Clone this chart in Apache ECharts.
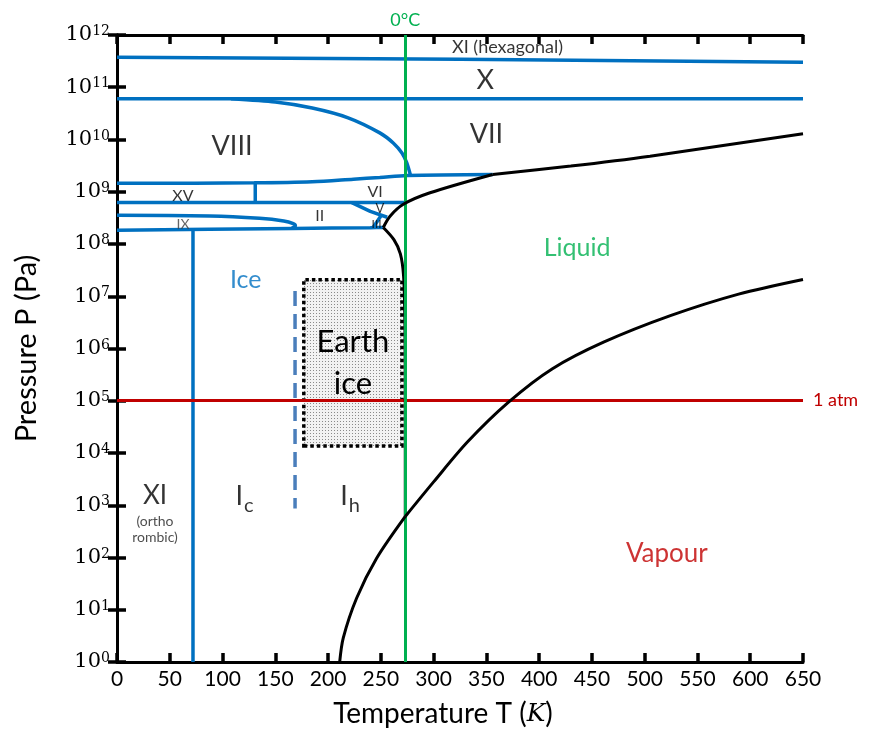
<!DOCTYPE html>
<html>
<head>
<meta charset="utf-8">
<script src="https://cdn.jsdelivr.net/npm/echarts@6/dist/echarts.min.js"></script>
<style>
  html, body { margin: 0; padding: 0; background: #fff; }
  #chart { width: 873px; height: 733px; }
</style>
</head>
<body>
<div id="chart"></div>
<script>
// ---- Axis ranges and ticks ----
const tempMin = 0, tempMax = 650, tempStep = 50;
const pressMin = 1, pressMax = 1e12;

// ---- Reference lines ----
const freezingPointK = 273.15;
const oneAtmPa = 101325;

// ---- Phase boundaries: [temperature K, pressure Pa] ----
const xiHexXBoundary  = [[0, 3.75e11], [325, 3.45e11], [650, 3.0e11]];
const xViiBoundary    = [[0, 6.0e10], [650, 6.0e10]];
const viiiViiBoundary = [[108, 6.0e10], [150, 5.2e10], [185, 4.0e10], [219, 2.6e10], [249, 1.34e10],
                         [262, 8.5e9], [270, 5.5e9], [274.5, 3.6e9], [278, 2.1e9]];
const upperIceBoundary = [[0, 1.45e9], [130, 1.48e9], [185, 1.55e9], [224, 1.74e9], [249, 1.88e9],
                          [275, 2.05e9], [356, 2.14e9]];
const xvLowerBoundary = [[0, 6.2e8], [272, 6.2e8]];
const xvViBoundary    = [[131, 1.48e9], [131, 6.2e8]];
const ixUpperBoundary = [[0, 3.55e8], [88, 3.44e8], [135, 3.1e8], [158, 2.75e8], [167, 2.45e8],
                         [169, 2.24e8], [165.5, 2.0e8]];
const ihUpperBoundary = [[0, 1.83e8], [167, 1.98e8], [240, 2.05e8], [252.3, 2.07e8]];
const xiIhBoundary    = [[72, 1.9e8], [72, 1]];
const iiVBoundary     = [[222.5, 6.2e8], [240, 4.2e8], [256, 3.25e8]];
const iiIiiBoundary   = [[242.5, 2.05e8], [250.5, 3.55e8]];
const cubicHexBoundary = [[168.7, 1.26e7], [168.7, 870]];

// ---- Liquid / vapour boundaries ----
const viiMelting  = [[356, 2.14e9], [430, 3.1e9], [505, 4.8e9], [650, 1.29e10]];
const highMelting = [[252.3, 2.07e8], [258.7, 3.4e8], [271.3, 5.75e8], [296.6, 9.55e8], [356, 2.14e9]];
const ihMelting   = [[252.3, 2.07e8], [262.5, 1.2e8], [268.5, 6.5e7], [271.5, 2.5e7], [272.8, 3e6],
                     [273.1, 1e5], [273.16, 611]];
const sublimation = [[273.16, 611], [246, 96.6], [227, 16.6], [214.4, 2.9], [211, 1]];
const vaporization = [[273.16, 611], [300, 2.8e3], [332, 1.62e4], [371, 9.4e4], [412.6, 4.1e5],
                      [461, 1.32e6], [525, 4.3e6], [589, 1.1e7], [650, 2.1e7]];

// ---- Range of ice found on Earth ----
const earthIceRange = [[177, 1.36e4], [270, 2.07e7]];

// ---- Region names: [text, temperature K, pressure Pa] ----
const regionLabels = [
  ['XI (hexagonal)', 370, 5.8e11],
  ['X', 349, 1.35e11],
  ['VII', 350, 1.26e10],
  ['VIII', 109, 7.4e9],
  ['XV', 62.5, 8.5e8],
  ['VI', 244.5, 1.0e9],
  ['II', 192, 3.4e8],
  ['V', 249, 4.8e8],
  ['III', 246, 2.4e8],
  ['IX', 62.5, 2.4e8],
  ['Liquid', 436, 8.3e7],
  ['Ice', 122, 2.04e7],
  ['XI', 36, 1.55e3],
  ['(ortho', 36, 490],
  ['rombic)', 36, 245],
  ['Ic', 121, 1.3e3],
  ['Ih', 221, 1.3e3],
  ['Vapour', 521, 120]
];

const FONT = 'Lato, "Open Sans", sans-serif';
const BLUE = '#0070c0', BLACK = '#000000', GREEN = '#00b050', RED = '#c00000';

const labelStyle = {
  'XI (hexagonal)': { fontSize: 18 },
  'X': { fontSize: 27 }, 'VII': { fontSize: 27 }, 'VIII': { fontSize: 27 },
  'XV': { fontSize: 16 }, 'VI': { fontSize: 16 }, 'II': { fontSize: 16 },
  'V': { fontSize: 13 }, 'III': { fontSize: 12 }, 'IX': { fontSize: 14, color: '#404040' },
  'Liquid': { fontSize: 25, color: GREEN }, 'Ice': { fontSize: 25, color: BLUE },
  'XI': { fontSize: 26 }, '(ortho': { fontSize: 14, color: '#222' }, 'rombic)': { fontSize: 14, color: '#222' },
  'Ic': { rich: true }, 'Ih': { rich: true },
  'Vapour': { fontSize: 26, color: RED }
};

// stipple pattern for the Earth-ice box
function stipple() {
  const c = document.createElement('canvas');
  c.width = 3; c.height = 3;
  const g = c.getContext('2d');
  g.fillStyle = '#f2f2f2'; g.fillRect(0, 0, 3, 3);
  g.fillStyle = '#8a8a8a'; g.fillRect(1, 1, 1, 1);
  return c;
}

function boundary(data, color, opts) {
  return Object.assign({
    type: 'line', data: data, showSymbol: false, symbol: 'none', smooth: false,
    lineStyle: { color: color, width: 3.5 }, z: 3, silent: true, animation: false
  }, opts || {});
}

const labelSeries = {
  type: 'scatter', symbolSize: 0, z: 10, silent: true, animation: false,
  data: regionLabels.map(([text, t, p]) => {
    const st = labelStyle[text] || {};
    const item = { value: [t, p] };
    if (st.rich) {
      // "I" with a lowered subscript letter; the tiny strut token sets the line height
      item.label = {
        show: true, position: 'inside',
        formatter: '{m|I}{s|' + text.slice(1) + '}{z| }',
        rich: {
          m: { fontFamily: FONT, fontSize: 27, color: '#000', lineHeight: 27, verticalAlign: 'top' },
          s: { fontFamily: FONT, fontSize: 20, color: '#000', lineHeight: 20, verticalAlign: 'bottom', padding: [0, 0, 0, 1] },
          z: { fontSize: 1, lineHeight: 33, verticalAlign: 'bottom' }
        }
      };
    } else {
      item.label = {
        show: true, position: 'inside', formatter: text,
        fontFamily: FONT, fontSize: st.fontSize || 16, color: st.color || '#000'
      };
    }
    return item;
  })
};

const supLabel = (v) => '{b|10}{s|' + Math.round(Math.log10(v)) + '}';

const option = {
  animation: false,
  backgroundColor: '#fff',
  grid: { left: 117, right: 70, top: 35, bottom: 69, show: false },
  xAxis: [
    {
      type: 'value', min: tempMin, max: tempMax, interval: tempStep, position: 'bottom',
      name: '{n|Temperature T (}{k|K}{n|)}', nameLocation: 'middle', nameGap: 38,
      nameTextStyle: {
        padding: [0, 34, 0, 0],
        rich: {
          n: { fontFamily: FONT, fontSize: 28, color: '#000' },
          k: { fontFamily: '"DejaVu Serif", serif', fontStyle: 'italic', fontSize: 25, color: '#000' }
        }
      },
      axisLine: { show: true, lineStyle: { color: '#000', width: 3 } },
      axisTick: { show: true, inside: true, length: 9, lineStyle: { color: '#000', width: 3.5 } },
      axisLabel: { fontFamily: FONT, fontSize: 21, color: '#000', margin: 7 },
      splitLine: { show: false }
    },
    {
      type: 'value', min: tempMin, max: tempMax, interval: tempStep, position: 'top',
      axisLine: { show: true, lineStyle: { color: '#000', width: 3 } },
      axisTick: { show: true, inside: true, length: 9, lineStyle: { color: '#000', width: 3.5 } },
      axisLabel: { show: false }, splitLine: { show: false }
    }
  ],
  yAxis: [
    {
      type: 'log', logBase: 10, min: pressMin, max: pressMax, interval: 1, position: 'left',
      name: 'Pressure P (Pa)', nameLocation: 'middle', nameGap: 76, nameRotate: 90,
      nameTextStyle: { fontFamily: FONT, fontSize: 29, color: '#000' },
      axisLine: { show: true, lineStyle: { color: '#000', width: 3 } },
      axisTick: { show: true, inside: true, length: 9, lineStyle: { color: '#000', width: 3.5 } },
      axisLabel: {
        formatter: supLabel, margin: 7,
        rich: {
          b: { fontFamily: '"DejaVu Serif", serif', fontSize: 21, color: '#000', verticalAlign: 'bottom', lineHeight: 21, padding: [9, 0, 0, 0] },
          s: { fontFamily: '"DejaVu Serif", serif', fontSize: 14, color: '#000', verticalAlign: 'top', lineHeight: 14 }
        }
      },
      splitLine: { show: false }
    },
    {
      type: 'log', logBase: 10, min: pressMin, max: pressMax, interval: 1, position: 'right',
      axisLine: { show: true, lineStyle: { color: '#000', width: 3 } },
      axisTick: { show: true, inside: true, length: 9, lineStyle: { color: '#000', width: 3.5 } },
      axisLabel: { show: false }, splitLine: { show: false }
    }
  ],
  series: [
    // 1 atm and 0 °C reference lines
    {
      type: 'line', data: [], silent: true, z: 1,
      markLine: {
        silent: true, symbol: 'none', animation: false,
        data: [
          { yAxis: oneAtmPa, lineStyle: { color: RED, width: 3, type: 'solid' },
            label: { show: true, position: 'end', formatter: '1 atm', color: RED, fontFamily: FONT, fontSize: 18, distance: 10 } }
        ]
      }
    },
    {
      type: 'line', data: [], silent: true, z: 6,
      markLine: {
        silent: true, symbol: 'none', animation: false, z: 6,
        data: [
          { xAxis: freezingPointK, lineStyle: { color: GREEN, width: 3, type: 'solid' },
            label: { show: true, position: 'end', formatter: '0°C', color: GREEN, fontFamily: FONT, fontSize: 18, distance: 6 } }
        ]
      }
    },
    // Earth ice box
    {
      type: 'line', data: [], silent: true, z: 2,
      markArea: {
        silent: true, animation: false,
        itemStyle: { color: { image: stipple(), repeat: 'repeat' }, borderColor: '#000', borderWidth: 3.5, borderType: [3.5, 3] },
        label: { show: true, position: 'inside', formatter: 'Earth\nice', fontFamily: FONT, fontSize: 31, lineHeight: 42, color: '#000' },
        data: [[{ coord: earthIceRange[0] }, { coord: earthIceRange[1] }]]
      }
    },
    // solid ice phase boundaries
    boundary(xiHexXBoundary, BLUE),
    boundary(xViiBoundary, BLUE),
    boundary(viiiViiBoundary, BLUE, { smooth: 0.25 }),
    boundary(upperIceBoundary, BLUE, { smooth: 0.3 }),
    boundary(xvLowerBoundary, BLUE),
    boundary(xvViBoundary, BLUE),
    boundary(ixUpperBoundary, BLUE, { smooth: 0.4 }),
    boundary(ihUpperBoundary, BLUE, { smooth: 0.2 }),
    boundary(xiIhBoundary, BLUE),
    boundary(iiVBoundary, BLUE),
    boundary(iiIiiBoundary, BLUE),
    boundary(cubicHexBoundary, '#4a7ebb', { lineStyle: { color: '#4a7ebb', width: 3.5, type: [15, 8] } }),
    // liquid and vapour boundaries
    boundary(viiMelting, BLACK, { smooth: 0.3, z: 7, lineStyle: { color: BLACK, width: 3 } }),
    boundary(highMelting, BLACK, { smooth: 0.3, z: 7, lineStyle: { color: BLACK, width: 3 } }),
    boundary(ihMelting, BLACK, { smooth: 0.3, z: 5, lineStyle: { color: BLACK, width: 3 } }),
    boundary(sublimation, BLACK, { smooth: 0.3, z: 7, lineStyle: { color: BLACK, width: 3 } }),
    boundary(vaporization, BLACK, { smooth: 0.3, z: 7, lineStyle: { color: BLACK, width: 3 } }),
    labelSeries
  ]
};

const chart = echarts.init(document.getElementById('chart'), null, { renderer: 'canvas' });
chart.setOption(option);
</script>
</body>
</html>
